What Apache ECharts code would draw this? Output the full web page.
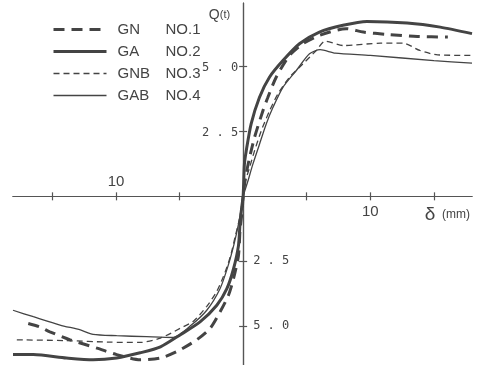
<!DOCTYPE html>
<html>
<head>
<meta charset="utf-8">
<script src="https://cdn.jsdelivr.net/npm/echarts@6/dist/echarts.min.js"></script>
<style>
  html, body { margin: 0; padding: 0; background: #fff; }
  #chart { width: 484px; height: 365px; }
</style>
</head>
<body>
<div id="chart"></div>
<script>
// series names + legend tags
const seriesNames = ['GN', 'GA', 'GNB', 'GAB'];
const seriesTags = ['NO.1', 'NO.2', 'NO.3', 'NO.4'];

// GN (thick dashed)
const gnDelta = [-16.9, -16.0, -15.2, -13.6, -11.5, -9.95, -8.1, -6.5, -5.2, -3.65, -2.6, -1.81, -1.16, -0.76, -0.37, -0.24, -0.08, 0, 0.18, 0.5, 0.89, 1.55, 1.94, 2.6, 3.65, 4.7, 6.0, 8.1, 9.45, 11.3, 13.7, 16.1];
const gnQ = [-4.9, -5.03, -5.22, -5.53, -5.85, -6.1, -6.3, -6.23, -5.98, -5.53, -5.09, -4.45, -3.82, -3.18, -2.29, -1.27, -0.57, 0, 0.71, 1.48, 2.26, 3.29, 3.81, 4.59, 5.43, 5.88, 6.2, 6.46, 6.33, 6.24, 6.16, 6.14];

// GA (thick solid)
const gaDelta = [-18.1, -16.5, -13.9, -11.8, -9.95, -8.1, -6.5, -4.96, -3.39, -2.07, -1.28, -0.76, -0.37, -0.24, -0.1, 0, 0.1, 0.24, 0.63, 1.28, 2.07, 3.13, 4.43, 6.0, 7.85, 9.74, 12.9, 15.5, 18.0];
const gaQ = [-6.1, -6.1, -6.23, -6.3, -6.23, -6.03, -5.8, -5.34, -4.84, -4.2, -3.56, -2.8, -1.91, -1.02, -0.38, 0, 1.24, 1.74, 2.79, 3.81, 4.59, 5.23, 5.88, 6.33, 6.59, 6.74, 6.68, 6.52, 6.27];

// GNB (thin dashed)
const gnbDelta = [-17.8, -13.9, -10.5, -8.1, -6.5, -4.96, -3.91, -2.86, -2.07, -1.55, -1.02, -0.63, -0.24, 0, 0.18, 0.5, 0.89, 1.42, 2.07, 2.73, 3.65, 4.7, 5.75, 6.46, 7.9, 10.8, 12.6, 13.9, 15.3, 18.0];
const gnbQ = [-5.53, -5.56, -5.62, -5.63, -5.46, -5.09, -4.81, -4.24, -3.66, -3.09, -2.35, -1.56, -0.76, 0, 0.58, 1.1, 1.74, 2.52, 3.29, 3.94, 4.59, 5.1, 5.62, 5.98, 5.81, 5.9, 5.9, 5.62, 5.45, 5.43];

// GAB (thin solid)
const gabDelta = [-18.1, -16.5, -14.4, -12.8, -11.8, -9.95, -7.6, -5.5, -4.17, -2.86, -1.81, -1.18, -0.71, -0.35, -0.12, 0, 0.37, 0.76, 1.28, 1.81, 2.34, 3.13, 4.17, 5.22, 6.06, 7.24, 10.0, 15.0, 18.0];
const gabQ = [-4.39, -4.64, -4.96, -5.15, -5.32, -5.37, -5.41, -5.44, -5.0, -4.39, -3.55, -2.67, -1.83, -1.03, -0.38, 0, 0.58, 1.23, 2.0, 2.78, 3.42, 4.2, 4.84, 5.49, 5.65, 5.52, 5.43, 5.23, 5.13];

// ticks + tick labels
const deltaTicks = [-15, -10, -5, 5, 10, 15];
const qTicks = [-5, -2.5, 2.5, 5];
const deltaLabelsBelow = [10];   // drawn under the axis
const deltaLabelsAbove = [-10];  // drawn over the axis
const qLabelsLeft = [2.5, 5];
const qLabelsRight = [-2.5, -5];

const ink = '#444';
const axisInk = '#555';

// line look per series (same order as seriesNames)
const lineStyles = [
  { color: ink, width: 3, type: [11, 7] },
  { color: ink, width: 3, type: 'solid' },
  { color: ink, width: 1.3, type: [6, 4] },
  { color: ink, width: 1.3, type: 'solid' }
];

function pairs(xs, ys) {
  return xs.map((x, i) => [x, ys[i]]);
}

// typewriter style "5 . 0"
function spaced(v) {
  return Math.abs(v).toFixed(1).split('').join(' ');
}

const xRange = { min: -18.1, max: 18 };
const yRange = { min: -6.5, max: 7.45 };

function xAxisBase(pos) {
  return {
    type: 'value',
    position: pos,
    min: xRange.min,
    max: xRange.max,
    splitLine: { show: false },
    axisLabel: { show: false },
    axisLine: { onZero: true, onZeroAxisIndex: 0, lineStyle: { color: axisInk, width: 1.2 } },
    axisTick: { customValues: deltaTicks, length: 4, lineStyle: { color: axisInk, width: 1.2 } }
  };
}

function yAxisBase(pos) {
  return {
    type: 'value',
    position: pos,
    min: yRange.min,
    max: yRange.max,
    splitLine: { show: false },
    axisLabel: { show: false },
    axisLine: { onZero: true, onZeroAxisIndex: 0, lineStyle: { color: axisInk, width: 1.2 } },
    axisTick: { customValues: qTicks, length: 4, lineStyle: { color: axisInk, width: 1.2 } }
  };
}

const seriesData = [
  pairs(gnDelta, gnQ),
  pairs(gaDelta, gaQ),
  pairs(gnbDelta, gnbQ),
  pairs(gabDelta, gabQ)
];

const chart = echarts.init(document.getElementById('chart'));

chart.setOption({
  backgroundColor: '#fff',
  animation: false,
  grid: { left: 13, right: 12, top: 3, bottom: 0, outerBoundsMode: 'none' },
  legend: {
    orient: 'vertical',
    left: 47,
    top: 17,
    itemWidth: 53,
    itemHeight: 14,
    itemGap: 7,
    itemStyle: { opacity: 0 },
    data: seriesNames.map((n, i) => ({ name: n, lineStyle: lineStyles[i] })),
    formatter: name => '{a|' + name + '}{b|' + seriesTags[seriesNames.indexOf(name)] + '}',
    textStyle: {
      color: ink,
      rich: {
        a: { width: 48, fontSize: 15, fontFamily: 'Liberation Sans', color: ink, padding: [0, 0, 0, 6] },
        b: { fontSize: 15, fontFamily: 'Liberation Sans', color: ink }
      }
    }
  },
  xAxis: [
    Object.assign(xAxisBase('bottom'), {
      name: '{d|δ}  {m|(mm)}',
      nameLocation: 'end',
      nameGap: -2,
      nameTextStyle: {
        align: 'right',
        verticalAlign: 'top',
        padding: [9, 0, 0, 0],
        rich: {
          d: { fontSize: 19, fontFamily: 'Liberation Sans', color: ink },
          m: { fontSize: 12, fontFamily: 'Liberation Sans', color: ink }
        }
      }
    }),
    xAxisBase('top')
  ],
  yAxis: [
    Object.assign(yAxisBase('left'), {
      name: '{q|Q}{t|(t)}',
      nameLocation: 'end',
      nameGap: -5,
      nameTextStyle: {
        align: 'right',
        verticalAlign: 'top',
        padding: [0, 13, 0, 0],
        rich: {
          q: { fontSize: 14, fontFamily: 'Liberation Sans', color: ink },
          t: { fontSize: 11, fontFamily: 'Liberation Sans', color: ink }
        }
      }
    }),
    yAxisBase('right')
  ],
  series: seriesNames.map((n, i) => ({
    name: n,
    type: 'line',
    symbol: 'none',
    smooth: 0.25,
    clip: true,
    data: seriesData[i],
    lineStyle: lineStyles[i],
    itemStyle: { color: ink }
  }))
});

// tick labels sit on the crossing axes, so place them from the axis scales
const toPx = p => chart.convertToPixel({ gridIndex: 0 }, p);
const numFont = { fontSize: 15, fontFamily: 'Liberation Sans', fill: ink };
const monoFont = { fontSize: 12, fontFamily: 'DejaVu Sans Mono', fill: ink };
const labels = [];

deltaLabelsBelow.forEach(v => {
  const [x, y] = toPx([v, 0]);
  labels.push({ type: 'text', x: x, y: y + 8,
    style: Object.assign({ text: String(Math.abs(v)), align: 'center', verticalAlign: 'top' }, numFont) });
});
deltaLabelsAbove.forEach(v => {
  const [x, y] = toPx([v, 0]);
  labels.push({ type: 'text', x: x, y: y - 7,
    style: Object.assign({ text: String(Math.abs(v)), align: 'center', verticalAlign: 'bottom' }, numFont) });
});
qLabelsLeft.forEach(v => {
  const [x, y] = toPx([0, v]);
  labels.push({ type: 'text', x: x - 5, y: y + 1,
    style: Object.assign({ text: spaced(v), align: 'right', verticalAlign: 'middle' }, monoFont) });
});
qLabelsRight.forEach(v => {
  const [x, y] = toPx([0, v]);
  labels.push({ type: 'text', x: x + 10, y: y,
    style: Object.assign({ text: spaced(v), align: 'left', verticalAlign: 'middle' }, monoFont) });
});

chart.setOption({ graphic: labels });
</script>
</body>
</html>
